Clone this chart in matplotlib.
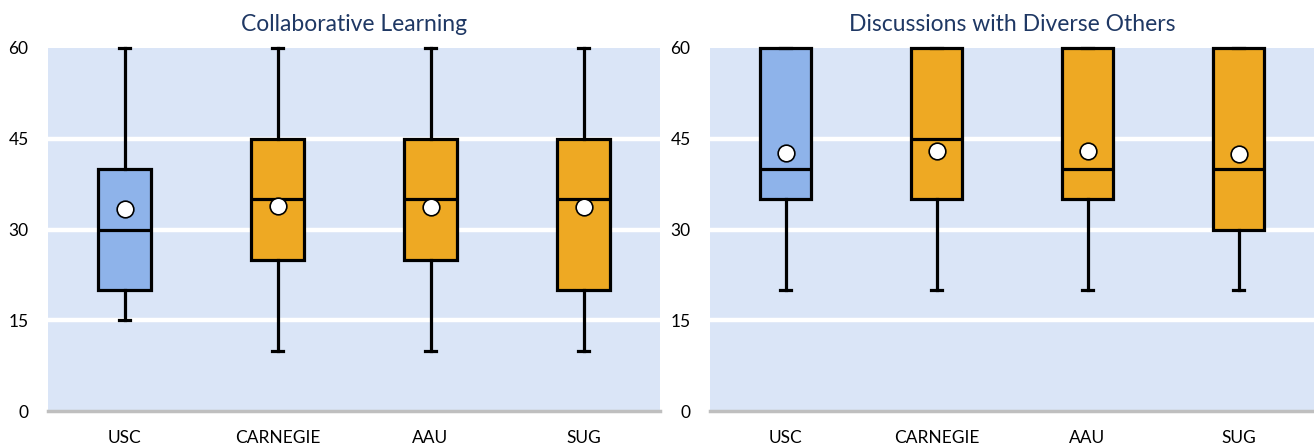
import matplotlib
matplotlib.use("Agg")
import matplotlib.pyplot as plt

categories = ["USC", "CARNEGIE", "AAU", "SUG"]
yticks = [0, 15, 30, 45, 60]

# Collaborative Learning: whisker low, Q1, median, Q3, whisker high, mean
cl_low = [15, 10, 10, 10]
cl_q1 = [20, 25, 25, 20]
cl_med = [30, 35, 35, 35]
cl_q3 = [40, 45, 45, 45]
cl_high = [60, 60, 60, 60]
cl_mean = [33.4, 33.9, 33.7, 33.7]

# Discussions with Diverse Others
dd_low = [20, 20, 20, 20]
dd_q1 = [35, 35, 35, 30]
dd_med = [40, 45, 40, 40]
dd_q3 = [60, 60, 60, 60]
dd_high = [60, 60, 60, 60]
dd_mean = [42.6, 43.0, 42.9, 42.4]

titles = ["Collaborative Learning", "Discussions with Diverse Others"]

BG = "#DAE5F7"
BLUE = "#8EB3EA"
ORANGE = "#EEA923"
TITLE_C = "#1F3864"

plt.rcParams["font.family"] = ["Lato", "DejaVu Sans"]

fig = plt.figure(figsize=(13.14, 4.46), dpi=100)
axes = [fig.add_axes([48 / 1314, 35 / 446, 612 / 1314, 363 / 446]),
        fig.add_axes([710 / 1314, 35 / 446, 604 / 1314, 363 / 446])]

panels = [
    (cl_low, cl_q1, cl_med, cl_q3, cl_high, cl_mean),
    (dd_low, dd_q1, dd_med, dd_q3, dd_high, dd_mean),
]

for ax, data, title in zip(axes, panels, titles):
    low, q1, med, q3, high, mean = data
    stats = []
    for i in range(len(categories)):
        stats.append(dict(whislo=low[i], q1=q1[i], med=med[i], q3=q3[i],
                          whishi=high[i], mean=mean[i], label=categories[i]))
    ax.set_facecolor(BG)
    for y in yticks[1:-1]:
        ax.axhline(y, color="white", lw=3.2, zorder=1)
    bp = ax.bxp(stats, positions=range(len(categories)), widths=0.34,
                patch_artist=True, showmeans=True, showfliers=False,
                boxprops=dict(edgecolor="black", linewidth=2.3),
                medianprops=dict(color="black", linewidth=2.3),
                whiskerprops=dict(color="black", linewidth=2.3),
                capprops=dict(color="black", linewidth=2.3),
                capwidths=0.07,
                meanprops=dict(marker="o", markerfacecolor="white",
                               markeredgecolor="black", markersize=12,
                               markeredgewidth=1.2))
    for i, box in enumerate(bp["boxes"]):
        box.set_facecolor(BLUE if i == 0 else ORANGE)
        box.set_zorder(3)
    for key in ["boxes", "medians", "whiskers", "caps", "means"]:
        for art in bp[key]:
            art.set_clip_on(False)
            if key != "boxes":
                art.set_zorder(4)
    for m in bp["means"]:
        m.set_zorder(5)
    ax.set_xlim(-0.5, len(categories) - 0.5)
    ax.set_ylim(0, 60)
    ax.set_yticks(yticks)
    ax.set_xticks(range(len(categories)))
    ax.set_xticklabels(categories)
    ax.tick_params(axis="both", length=0, labelsize=12.5, colors="black")
    ax.tick_params(axis="y", pad=14)
    ax.tick_params(axis="x", pad=14)
    for s in ["top", "right", "left"]:
        ax.spines[s].set_visible(False)
    ax.spines["bottom"].set_color("#BFBFBF")
    ax.spines["bottom"].set_linewidth(2.5)
    ax.set_title(title, color=TITLE_C, fontsize=16.5, pad=12)

fig.savefig("out.png", dpi=100)
